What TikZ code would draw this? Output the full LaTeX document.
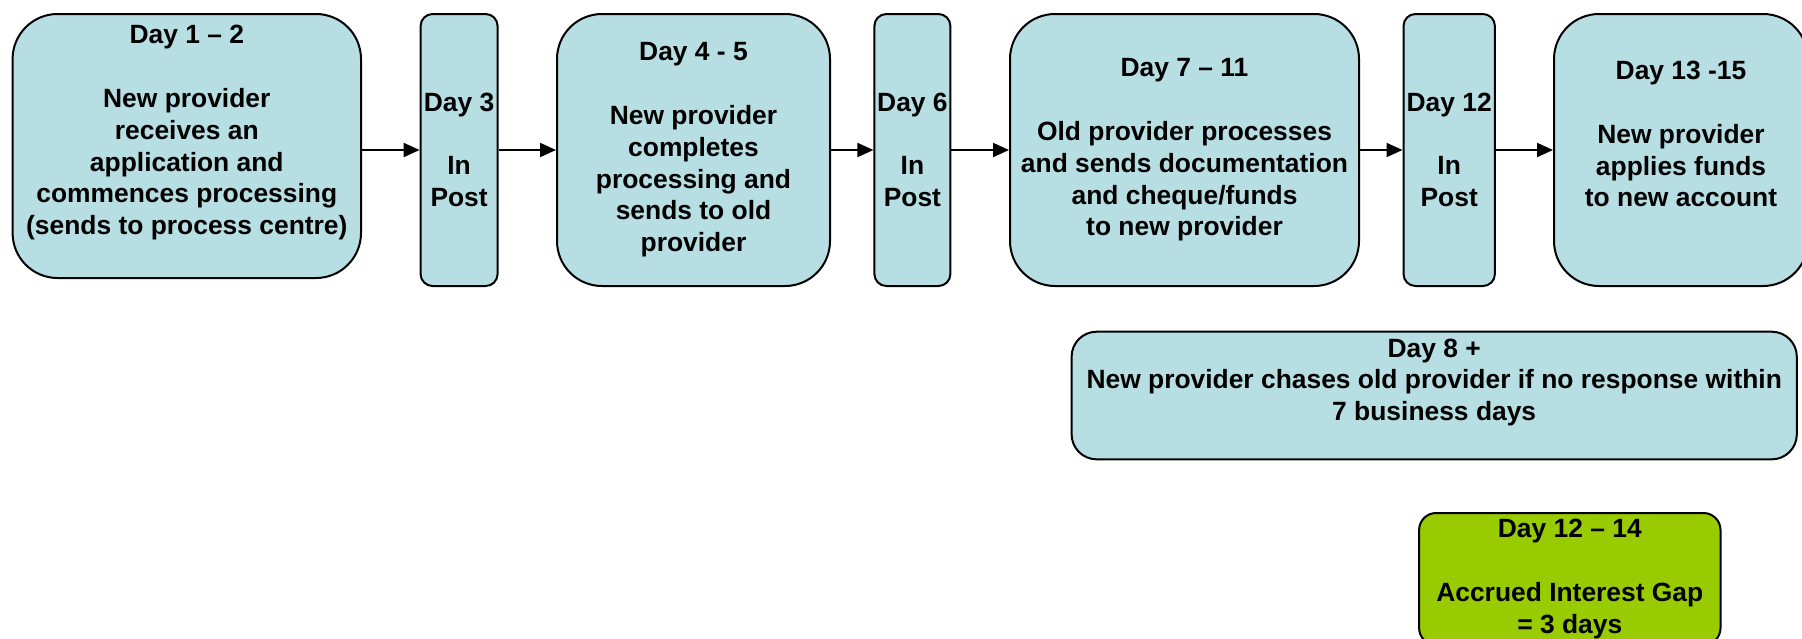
\documentclass[tikz,border=0pt]{standalone}
\usepackage{fontspec}
\setmainfont{Liberation Sans}
\usepackage{xcolor}
\usepackage{tikz}
\usetikzlibrary{arrows.meta,positioning}
\definecolor{transferblue}{HTML}{B7DFE3}
\definecolor{transfergreen}{HTML}{99CC00}

\tikzset{
  etape/.style={draw=black,line width=1pt,fill=transferblue,rounded corners=22.5pt,
                align=center,inner sep=1pt,
                font=\fontsize{13.2}{15.9}\selectfont\bfseries,
                execute at begin node={\rule{0pt}{12.5pt}}},
  poste/.style={etape,rounded corners=6pt,minimum width=#1,minimum height=136pt},
  fleche/.style={-{Triangle[length=8pt,width=7pt]},line width=1pt}
}

\begin{document}
\begin{tikzpicture}[x=0.5pt,y=-0.5pt]

  \useasboundingbox (0,0) rectangle (1802,638);

  % Etapes du transfert
  \node[etape,minimum width=174.2pt,minimum height=132pt] (demande) at (186.8,146)
       {Day 1 -- 2\\[\baselineskip]New provider\\receives an\\application and\\
        commences processing\\(sends to process centre)\\ \mbox{}};
  \node[poste=38.5pt] (poste3) at (459.1,150) {Day 3\\[\baselineskip]In\\Post};
  \node[etape,minimum width=136.5pt,minimum height=136pt] (traitement) at (693.5,150)
       {Day 4 - 5\\[\baselineskip]New provider\\completes\\processing and\\
        sends to old\\provider};
  \node[poste=38pt] (poste6) at (912.4,150) {Day 6\\[\baselineskip]In\\Post};
  \node[etape,minimum width=174.5pt,minimum height=136pt] (ancien) at (1184.5,150)
       {Day 7 -- 11\\[\baselineskip]Old provider processes\\and sends documentation\\
        and cheque/funds\\to new provider};
  \node[poste=45.7pt] (poste12) at (1449.2,150) {Day 12\\[\baselineskip]In\\Post};
  \node[etape,minimum width=127pt,minimum height=136pt] (fonds) at (1681,150)
       {Day 13 -15\\[\baselineskip]New provider\\applies funds\\to new account\\ \mbox{}};

  % Fleches entre les etapes
  \foreach \a/\b in {demande/poste3, poste3/traitement, traitement/poste6,
                     poste6/ancien, ancien/poste12, poste12/fonds} {
    \draw[fleche] (\a.east |- \b.west) -- (\b.west);
  }

  % Relance et ecart d'interets
  \node[etape,rounded corners=12.5pt,minimum width=362.6pt,minimum height=63.8pt]
       (relance) at (1434.2,395.5)
       {Day 8 +\\New provider chases old provider if no response within\\
        7 business days\\ \mbox{}};
  \node[etape,fill=transfergreen,rounded corners=8.5pt,minimum width=150.7pt,
        minimum height=66pt] (ecart) at (1569.8,579)
       {Day 12 -- 14\\[\baselineskip]Accrued Interest Gap\\= 3 days};

\end{tikzpicture}
\end{document}
